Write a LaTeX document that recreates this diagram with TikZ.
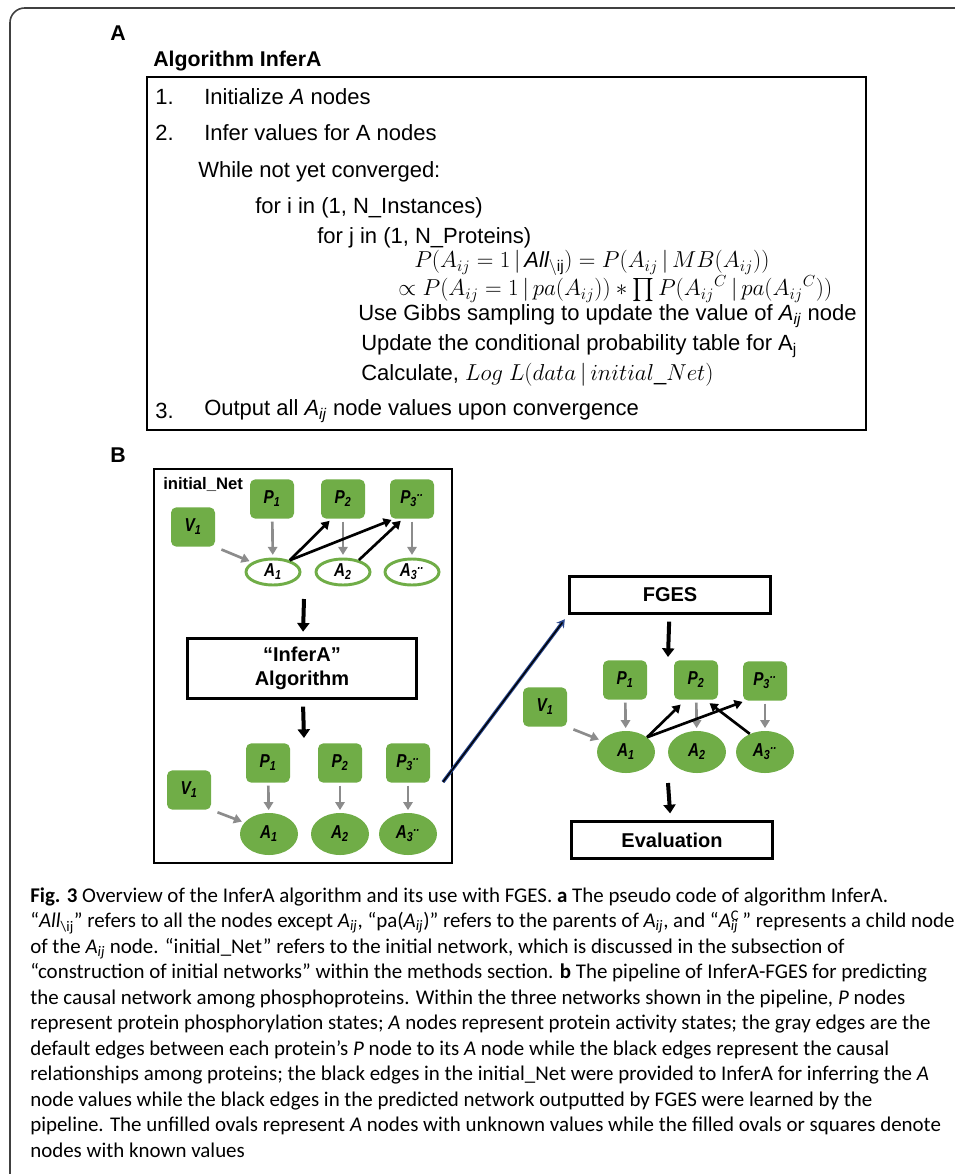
\documentclass[tikz,border=0pt]{standalone}
\usepackage{amsmath}
\usepackage{fontspec}
\usepackage{xcolor}
\setmainfont{Liberation Sans}
\newfontfamily\capfont{Carlito}
\newfontfamily\narrowfont[FakeStretch = 0.82]{Liberation Sans}
\usetikzlibrary{arrows.meta,shapes.geometric}
\definecolor{leaf}{RGB}{112,173,71}
\definecolor{edgegray}{RGB}{140,140,140}
\definecolor{navyline}{RGB}{40,70,140}
\newcommand{\lbl}[2]{#1\textsubscript{#2}}
\newcommand{\lbldots}[2]{#1\textsubscript{#2}\textsuperscript{..}}
\newcommand{\Aij}{\textit{A}\textsubscript{\textit{ij}}}
\tikzstyle{prot} = [rectangle, rounded corners = 4pt, fill = leaf, inner sep = 0pt, minimum width = 33pt, minimum height = 29.5pt, font = \narrowfont\fontsize{14}{16}\selectfont\bfseries\itshape]
\tikzstyle{unknownA} = [ellipse, draw = leaf, line width = 2.2pt, fill = white, inner sep = 0pt, minimum width = 40.5pt, minimum height = 19.5pt, font = \narrowfont\fontsize{14}{16}\selectfont\bfseries\itshape]
\tikzstyle{knownA} = [ellipse, fill = leaf, inner sep = 0pt, minimum width = 43.5pt, minimum height = 31.5pt, font = \narrowfont\fontsize{14}{16}\selectfont\bfseries\itshape]
\tikzstyle{grayedge} = [draw = edgegray, line width = 2pt, -{Triangle[length = 6pt, width = 7pt]}, shorten <= 2pt, shorten >= 2pt]
\tikzstyle{causal} = [draw = black, line width = 2pt, -{Triangle[length = 6pt, width = 7pt]}, shorten >= 2pt]
\tikzstyle{flow} = [draw = black, line width = 3pt, -{Triangle[length = 6.5pt, width = 9pt]}]
\tikzstyle{stage} = [rectangle, draw = black, line width = 2.2pt, inner sep = 0pt, align = center, font = \fontsize{15}{18}\selectfont\bfseries]
\tikzstyle{algo} = [anchor = west, inner sep = 0pt, font = \fontsize{16.5}{19}\selectfont]
\tikzstyle{capline} = [anchor = base west, inner sep = 0pt, font = \capfont\fontsize{15.7}{18}\selectfont]

\begin{document}
\begin{tikzpicture}[x = 0.75pt, y = -0.75pt]
    \useasboundingbox (0, 0) rectangle (955, 1174);
    \draw [line width = 1.2pt, black!75, rounded corners = 11pt] (10, 1174) -- (10, 8) -- (955, 8);

    % panel A: pseudo code
    \node (labA) at (118, 33) [font = \fontsize{16}{19}\selectfont\bfseries] {A};
    \node (title) at (153, 61) [algo, font = \fontsize{16}{19}\selectfont\bfseries] {Algorithm InferA};
    \draw [line width = 2.2pt] (147, 77) rectangle (866, 430);
    \node (s1n) at (155, 97) [algo] {1.};
    \node (s1) at (204, 97) [algo] {Initialize \textit{A} nodes};
    \node (s2n) at (155, 133) [algo] {2.};
    \node (s2) at (204, 133) [algo] {Infer values for A nodes};
    \node (wh) at (198, 172) [algo] {While not yet converged:};
    \node (fi) at (255, 208) [algo] {for i in (1, N\_Instances)};
    \node (fj) at (317, 238) [algo] {for j in (1, N\_Proteins)};
    \node (eq1) at (414, 263) [algo] {$P(A_{ij} = 1\,|\,\mathit{All}_{\backslash\mathrm{ij}}) = P(A_{ij}\,|\,MB(A_{ij}))$};
    \node (eq2) at (398, 289) [algo] {$\propto P(A_{ij} = 1\,|\,pa(A_{ij})) \ast \prod P({A_{ij}}^{C}\,|\,pa({A_{ij}}^{C}))$};
    \node (gibbs) at (358, 316) [algo] {Use Gibbs sampling to update the value of \Aij\ node};
    \node (cpt) at (361, 346) [algo] {Update the conditional probability table for A\textsubscript{j}};
    \node (calc) at (361, 375) [algo] {Calculate, $Log\ L(data\,|\,initial\_Net)$};
    \node (s3n) at (155, 411) [algo] {3.};
    \node (s3) at (204, 411) [algo] {Output all \Aij\ node values upon convergence};

    % panel B: pipeline
    \node (labB) at (118, 455) [font = \fontsize{16}{19}\selectfont\bfseries] {B};
    \draw [line width = 2.2pt] (154, 469) rectangle (452, 863);
    \node (initNet) at (163, 484) [anchor = west, inner sep = 0pt, font = \fontsize{12.5}{15}\selectfont\bfseries] {initial\_Net};

    \node (iP1) at (272, 499) [prot] {\lbl{P}{1}};
    \node (iP2) at (343, 499) [prot] {\lbl{P}{2}};
    \node (iP3) at (412, 499) [prot] {\lbldots{P}{3}};
    \node (iV1) at (193, 527) [prot] {\lbl{V}{1}};
    \node (iA1) at (273, 572) [unknownA] {\lbl{A}{1}};
    \node (iA2) at (343, 572) [unknownA] {\lbl{A}{2}};
    \node (iA3) at (412, 572) [unknownA] {\lbldots{A}{3}};
    \draw [grayedge] (iP1) -- (iA1);
    \draw [grayedge] (iP2) -- (iA2);
    \draw [grayedge] (iP3) -- (iA3);
    \draw [grayedge, shorten <= 5pt] (iV1.south east) -- (iA1.155);
    \draw [causal] (iA1.35) -- (iP2.-120);
    \draw [causal] (iA1.35) -- (iP3.-132);
    \draw [causal] (iA2.37) -- (iP3.-115);

    \coordinate (netOut) at (304, 599);
    \node (inferA) at (302, 668.5) [stage, minimum width = 171.75pt, minimum height = 45pt] {``InferA''\\Algorithm};
    \coordinate (netIn) at (304, 738);
    \draw [flow, shorten >= 4pt] (netOut) -- (inferA);
    \draw [flow, shorten <= 5pt] (inferA) -- (netIn);

    \node (oP1) at (268, 763) [prot] {\lbl{P}{1}};
    \node (oP2) at (340, 763) [prot] {\lbl{P}{2}};
    \node (oP3) at (408, 763) [prot] {\lbldots{P}{3}};
    \node (oV1) at (189, 790) [prot] {\lbl{V}{1}};
    \node (oA1) at (269, 834) [knownA] {\lbl{A}{1}};
    \node (oA2) at (340, 834) [knownA] {\lbl{A}{2}};
    \node (oA3) at (408, 834) [knownA] {\lbldots{A}{3}};
    \draw [grayedge] (oP1) -- (oA1);
    \draw [grayedge] (oP2) -- (oA2);
    \draw [grayedge] (oP3) -- (oA3);
    \draw [grayedge, shorten <= 5pt] (oV1.south east) -- (oA1.155);

    % link to FGES
    \coordinate (linkStart) at (443, 782);
    \node (fges) at (670, 595) [stage, minimum width = 150.75pt, minimum height = 27.75pt] {FGES};
    \draw [navyline, line width = 2.6pt, -{Stealth[length = 6pt, width = 7pt]}, shorten >= 4pt] (linkStart) -- (fges.south west);
    \draw [black, line width = 1pt, shorten >= 7pt] (linkStart) -- (fges.south west);

    \coordinate (predIn) at (668, 657);
    \draw [flow, shorten <= 5pt] (fges) -- (predIn);
    \node (fP1) at (625, 680) [prot] {\lbl{P}{1}};
    \node (fP2) at (696, 680) [prot] {\lbl{P}{2}};
    \node (fP3) at (765, 681) [prot] {\lbldots{P}{3}};
    \node (fV1) at (545, 707) [prot] {\lbl{V}{1}};
    \node (fA1) at (626, 752) [knownA] {\lbl{A}{1}};
    \node (fA2) at (697, 752) [knownA] {\lbl{A}{2}};
    \node (fA3) at (765, 752) [knownA] {\lbldots{A}{3}};
    \draw [grayedge] (fP1) -- (fA1);
    \draw [grayedge] (fP2) -- (fA2);
    \draw [grayedge] (fP3) -- (fA3);
    \draw [grayedge, shorten <= 5pt] (fV1.south east) -- (fA1.155);
    \draw [causal, shorten >= 5pt] (fA1.35) -- (fP2.-118);
    \draw [causal] (fA1.35) -- (fP3.-135);
    \draw [causal, shorten >= 4pt] (fA3.130) -- (fP2.-65);

    \coordinate (predOut) at (668, 783);
    \node (evalBox) at (672, 840) [stage, minimum width = 150.75pt, minimum height = 27.75pt] {Evaluation};
    \draw [flow, shorten >= 5pt] (predOut) -- (evalBox);

    % caption
    \node (c1) at (30, 902) [capline] {\textbf{Fig. 3} Overview of the InferA algorithm and its use with FGES. \textbf{a} The pseudo code of algorithm InferA.};
    \node (c2) at (30, 927.5) [capline] {“\textit{All}\textsubscript{\textbackslash ij}” refers to all the nodes except \Aij, “pa(\Aij)” refers to the parents of \Aij, and “\textit{A}\rlap{\textsubscript{\textit{ij}}}\textsuperscript{C}\kern0.15em” represents a child node};
    \node (c3) at (30, 953) [capline] {of the \Aij\ node. “initial\_Net” refers to the initial network, which is discussed in the subsection of};
    \node (c4) at (30, 978.5) [capline] {“construction of initial networks” within the methods section. \textbf{b} The pipeline of InferA-FGES for predicting};
    \node (c5) at (30, 1004) [capline] {the causal network among phosphoproteins. Within the three networks shown in the pipeline, \textit{P} nodes};
    \node (c6) at (30, 1029.5) [capline] {represent protein phosphorylation states; \textit{A} nodes represent protein activity states; the gray edges are the};
    \node (c7) at (30, 1055) [capline] {default edges between each protein’s \textit{P} node to its \textit{A} node while the black edges represent the causal};
    \node (c8) at (30, 1080.5) [capline] {relationships among proteins; the black edges in the initial\_Net were provided to InferA for inferring the \textit{A}};
    \node (c9) at (30, 1106) [capline] {node values while the black edges in the predicted network outputted by FGES were learned by the};
    \node (c10) at (30, 1131.5) [capline] {pipeline. The unfilled ovals represent \textit{A} nodes with unknown values while the filled ovals or squares denote};
    \node (c11) at (30, 1157) [capline] {nodes with known values};
\end{tikzpicture}
\end{document}
